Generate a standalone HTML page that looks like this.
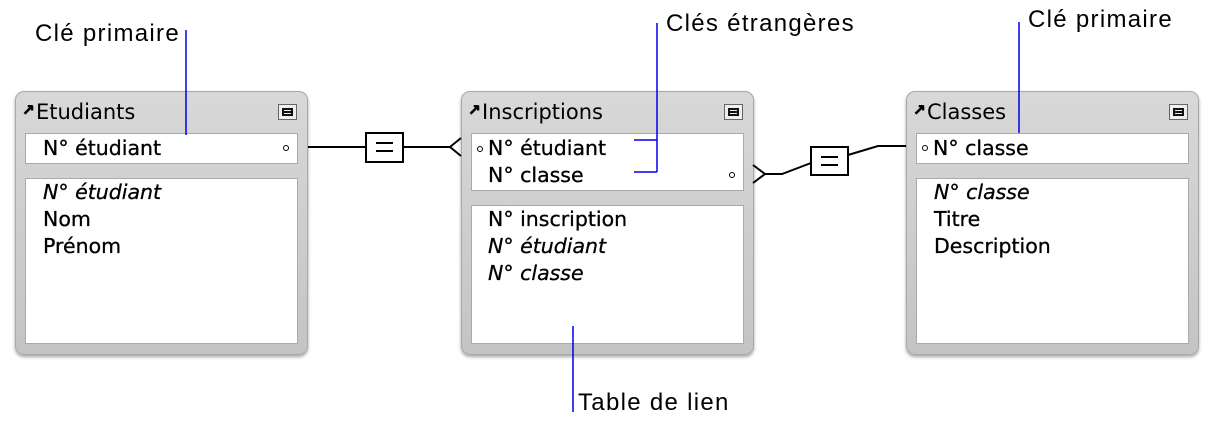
<!DOCTYPE html>
<html><head><meta charset="utf-8"><style>
body{margin:0;width:1214px;height:429px;background:#fff;position:relative;overflow:hidden;font-family:"DejaVu Sans",sans-serif}
.box{position:absolute;width:293px;height:264px;top:91px;background:linear-gradient(#d8d8d8,#c4c4c4);border:1px solid #a8a8a8;border-radius:9px;box-shadow:0 2px 3px rgba(0,0,0,.35);box-sizing:border-box}
.title{position:absolute;left:20px;top:8px;font-size:21px;color:#000}
.arrow{position:absolute;left:6px;top:9px;font-size:15px;font-weight:bold;-webkit-text-stroke:0.8px #000}
.btn{position:absolute;right:10px;top:12px;width:19px;height:16px;background:#eee;border:1px solid #666;box-sizing:border-box}
.btn:after{content:"";position:absolute;left:3px;top:3px;width:11px;height:8px;border:2px solid #111;box-sizing:border-box}
.btn:before{content:"";position:absolute;left:4px;top:6px;width:9px;height:2px;background:#111}
.key,.body{position:absolute;left:9px;right:9px;background:#fff;border:1px solid #aaa;box-sizing:border-box}
.t{position:absolute;font-size:20.5px;color:#000;white-space:nowrap;-webkit-text-stroke:0.3px #000}
.i{font-style:italic}
.dot{position:absolute;width:4px;height:4px;border:1.5px solid #000;border-radius:50%}
.ann{position:absolute;font-family:"Liberation Sans",Arial,sans-serif;font-size:24px;letter-spacing:1.3px;color:#000;white-space:nowrap}
</style></head><body>
<div class="box" style="left:15px">
 <span class="arrow">↗</span><div class="title">Etudiants</div><div class="btn"></div>
 <div class="key" style="top:41px;height:31px"><span class="t" style="left:17px;top:2px">N° étudiant</span><span class="dot" style="right:8px;top:11px"></span></div>
 <div class="body" style="top:86px;height:166px">
  <span class="t i" style="left:17px;top:1px">N° étudiant</span>
  <span class="t" style="left:17px;top:28px">Nom</span>
  <span class="t" style="left:17px;top:55px">Prénom</span></div>
</div>
<div class="box" style="left:461px">
 <span class="arrow">↗</span><div class="title">Inscriptions</div><div class="btn"></div>
 <div class="key" style="top:41px;height:58px">
  <span class="dot" style="left:5px;top:12px"></span>
  <span class="t" style="left:16px;top:2px">N° étudiant</span>
  <span class="t" style="left:16px;top:29px">N° classe</span>
  <span class="dot" style="right:8px;top:38px"></span></div>
 <div class="body" style="top:113px;height:139px">
  <span class="t" style="left:16px;top:1px">N° inscription</span>
  <span class="t i" style="left:16px;top:28px">N° étudiant</span>
  <span class="t i" style="left:16px;top:55px">N° classe</span></div>
</div>
<div class="box" style="left:906px">
 <span class="arrow">↗</span><div class="title">Classes</div><div class="btn"></div>
 <div class="key" style="top:41px;height:31px"><span class="dot" style="left:5px;top:11px"></span><span class="t" style="left:16px;top:2px">N° classe</span></div>
 <div class="body" style="top:86px;height:166px">
  <span class="t i" style="left:17px;top:1px">N° classe</span>
  <span class="t" style="left:17px;top:28px">Titre</span>
  <span class="t" style="left:17px;top:55px">Description</span></div>
</div>
<svg width="1214" height="429" style="position:absolute;left:0;top:0" fill="none">
 <g stroke="#000" stroke-width="2">
  <path d="M308 147H365M403 147H450M461 138L450 147L461 156"/>
  <rect x="366" y="133" width="37" height="29" fill="#fff"/>
  <path d="M376 143H393M376 151H393"/>
  <path d="M753 165L765 174L753 183M765 174H782L811 163M848 155L878 146H906"/>
  <rect x="811" y="147" width="37" height="28" fill="#fff"/>
  <path d="M821 157H838M821 165H838"/>
 </g>
 <g stroke="#0000ee" stroke-width="1.5">
  <path d="M186 30V135"/>
  <path d="M657 23V172M634 140H657M634 172H657"/>
  <path d="M1019 22V133"/>
  <path d="M573 326V412"/>
 </g>
</svg>
<div class="ann" style="left:35px;top:20px">Clé primaire</div>
<div class="ann" style="left:666px;top:10px">Clés étrangères</div>
<div class="ann" style="left:1028px;top:6px">Clé primaire</div>
<div class="ann" style="left:578px;top:389px">Table de lien</div>
</body></html>
